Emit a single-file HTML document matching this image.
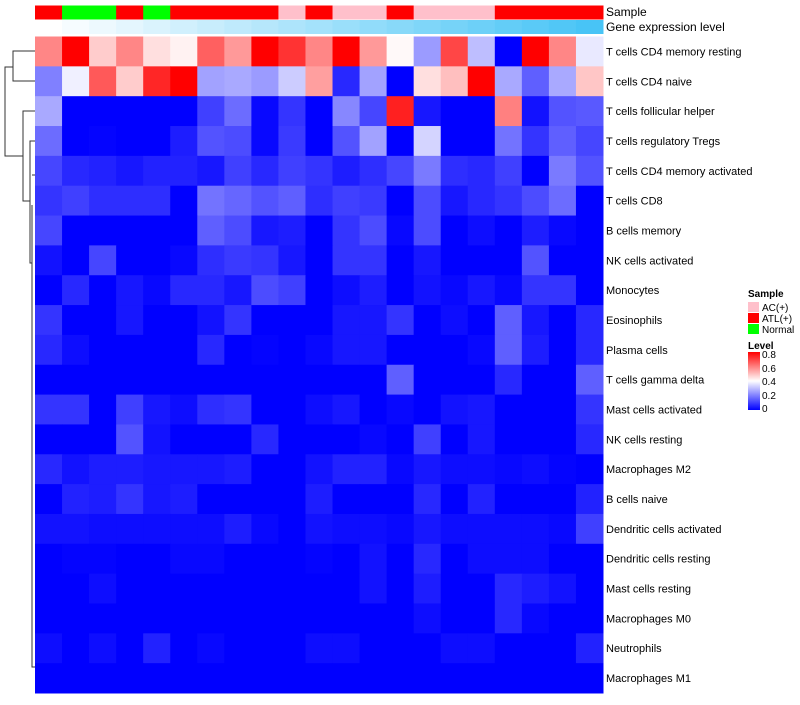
<!DOCTYPE html>
<html><head><meta charset="utf-8"><style>
body{margin:0;background:#fff;width:800px;height:700px;overflow:hidden;font-family:"Liberation Sans",sans-serif}
svg text{font-family:"Liberation Sans",sans-serif;fill:#000}
</style></head><body>
<svg id="chart" width="800" height="700" xmlns="http://www.w3.org/2000/svg">
<g id="dendro" stroke="#333" stroke-width="1" fill="none">
<path d="M35,51 H13 V81 H35 M13,67 H5 V156 H23 M35,111 H23 V201 H30 M35,141 H30 V263 H32 M32,175 H35 M32,205 V667 H35"/>
</g>
<g id="annot"></g>
<g id="cells"></g>
<g id="rowlabels" font-size="11"></g>
<text x="606" y="16" font-size="12">Sample</text>
<text x="606" y="31" font-size="12">Gene expression level</text>
<g font-size="10">
<text x="748" y="297" font-weight="bold">Sample</text>
<rect x="748" y="302" width="11" height="10" fill="#ffc0cb"/>
<text x="762" y="311">AC(+)</text>
<rect x="748" y="313" width="11" height="10" fill="#ff0000"/>
<text x="762" y="322">ATL(+)</text>
<rect x="748" y="324" width="11" height="10" fill="#00ff00"/>
<text x="762" y="333">Normal</text>
<text x="748" y="349" font-weight="bold">Level</text>
<defs><linearGradient id="lg" x1="0" y1="1" x2="0" y2="0"><stop offset="0" stop-color="#0000ff"/><stop offset="0.5" stop-color="#ffffff"/><stop offset="1" stop-color="#ff0000"/></linearGradient></defs>
<rect x="748" y="352" width="12" height="58" fill="url(#lg)"/>
<text x="762" y="358">0.8</text>
<text x="762" y="372">0.6</text>
<text x="762" y="385">0.4</text>
<text x="762" y="399">0.2</text>
<text x="762" y="412">0</text>
</g>
</svg>
<script>
const rowNames=["T cells CD4 memory resting","T cells CD4 naive","T cells follicular helper","T cells regulatory  Tregs","T cells CD4 memory activated","T cells CD8","B cells memory","NK cells activated","Monocytes","Eosinophils","Plasma cells","T cells gamma delta","Mast cells activated","NK cells resting","Macrophages M2","B cells naive","Dendritic cells activated","Dendritic cells resting","Mast cells resting","Macrophages M0","Neutrophils","Macrophages M1"];
const sampleGroups=["ATL","Normal","Normal","ATL","Normal","ATL","ATL","ATL","ATL","AC","ATL","AC","AC","ATL","AC","AC","AC","ATL","ATL","ATL","ATL"];
const geneLevels=[0,1,2,3,4,5,6,7,8,9,10,11,12,13,14,15,16,17,18,19,20];
const values=[
[0.59,0.8,0.48,0.59,0.45,0.42,0.65,0.56,0.8,0.72,0.59,0.8,0.56,0.41,0.26,0.69,0.31,0,0.8,0.59,0.37],
[0.22,0.38,0.66,0.48,0.74,0.8,0.27,0.28,0.26,0.33,0.55,0.08,0.27,0,0.45,0.5,0.8,0.28,0.17,0.28,0.49],
[0.28,0,0,0,0,0,0.12,0.19,0.02,0.1,0,0.23,0.13,0.75,0.05,0,0,0.6,0.04,0.15,0.16],
[0.19,0,0.01,0,0,0.06,0.15,0.14,0.02,0.11,0,0.15,0.27,0,0.34,0,0,0.2,0.1,0.17,0.13],
[0.13,0.08,0.07,0.05,0.07,0.07,0.05,0.12,0.08,0.12,0.1,0.06,0.09,0.13,0.21,0.09,0.08,0.12,0,0.21,0.15],
[0.1,0.12,0.09,0.09,0.09,0,0.2,0.18,0.15,0.17,0.09,0.12,0.11,0,0.14,0.05,0.08,0.1,0.14,0.19,0],
[0.13,0,0,0,0,0,0.17,0.14,0.05,0.06,0,0.1,0.14,0.02,0.14,0,0.03,0,0.06,0.02,0],
[0.04,0,0.13,0,0,0.02,0.09,0.11,0.1,0.05,0,0.1,0.1,0,0.05,0,0,0,0.15,0,0],
[0,0.08,0,0.05,0.02,0.08,0.08,0.05,0.14,0.12,0,0.03,0.06,0,0.04,0.02,0.05,0.02,0.1,0.1,0],
[0.1,0,0,0.05,0,0,0.04,0.1,0,0,0,0.05,0.05,0.1,0,0.03,0,0.17,0.05,0,0.08],
[0.08,0.03,0,0,0,0,0.08,0,0.01,0,0.02,0.05,0.05,0,0,0,0.02,0.17,0.06,0,0.08],
[0,0,0,0,0,0,0,0,0,0,0,0,0,0.17,0,0,0,0.08,0,0,0.17],
[0.1,0.1,0,0.12,0.05,0.03,0.09,0.1,0,0,0.03,0.05,0,0.02,0,0.04,0.05,0,0,0,0.1],
[0,0,0,0.15,0.04,0,0,0,0.08,0,0,0,0.02,0,0.12,0,0.05,0,0,0,0.08],
[0.08,0.04,0.06,0.06,0.05,0.05,0.05,0.06,0,0,0.04,0.07,0.07,0.02,0.05,0.03,0.03,0.02,0.03,0.01,0],
[0,0.07,0.06,0.1,0.05,0.06,0,0,0,0,0.06,0,0,0,0.08,0,0.07,0,0,0,0.07],
[0.04,0.04,0.03,0.03,0.03,0.03,0.03,0.06,0.02,0,0.04,0.03,0.03,0.02,0.05,0.03,0.03,0.03,0.03,0.02,0.12],
[0,0.01,0.01,0,0,0.02,0.02,0,0,0,0.01,0,0.04,0,0.08,0,0.03,0.03,0.03,0,0],
[0,0,0.03,0,0,0,0,0,0,0,0,0,0.04,0,0.06,0,0,0.08,0.06,0.04,0],
[0,0,0,0,0,0,0,0,0,0,0,0,0,0,0.03,0,0,0.08,0.02,0,0],
[0.03,0,0.03,0,0.07,0,0.02,0,0,0,0.03,0.03,0,0,0,0.03,0.03,0,0,0,0.07],
[0,0,0,0,0,0,0,0,0,0,0,0,0,0,0,0,0,0,0,0,0]
];
const NS="http://www.w3.org/2000/svg";
const X0=35,X1=603,Y0=36.5,Y1=693;
const nC=21,nR=rowNames.length;
const cw=(X1-X0)/nC,rh=(Y1-Y0)/nR;
function xPos(c){return X0+c*cw;}
function yPos(r){return Y0+r*rh;}
function color(v){let t=Math.max(0,Math.min(1,v/0.8));let r,g,b;
 if(t<0.5){let s=Math.pow(t/0.5,1.15);r=255*s;g=255*s;b=255;}else{let s=(t-0.5)/0.5;r=255;g=255*(1-s);b=255*(1-s);}
 return `rgb(${Math.round(r)},${Math.round(g)},${Math.round(b)})`;}
const sampleCol={AC:"#ffc0cb",ATL:"#ff0000",Normal:"#00ff00"};
const cells=document.getElementById('cells');
values.forEach((row,r)=>row.forEach((v,c)=>{
 const el=document.createElementNS(NS,'rect');
 el.setAttribute('x',xPos(c));el.setAttribute('y',yPos(r));
 el.setAttribute('width',cw+0.5);el.setAttribute('height',rh+0.5);
 el.setAttribute('fill',color(v));
 
 
 cells.appendChild(el);}));
const annot=document.getElementById('annot');
const gmax=Math.max(...geneLevels);
sampleGroups.forEach((s,c)=>{
 const el=document.createElementNS(NS,'rect');
 el.setAttribute('x',xPos(c));el.setAttribute('y',5.5);el.setAttribute('width',cw+0.5);el.setAttribute('height',14);
 el.setAttribute('fill',sampleCol[s]);
 
 
 annot.appendChild(el);
 const g=document.createElementNS(NS,'rect');
 const t=geneLevels[c]/gmax;
 g.setAttribute('x',xPos(c));g.setAttribute('y',20);g.setAttribute('width',cw+0.5);g.setAttribute('height',14);
 g.setAttribute('fill',`rgb(${Math.round(255-(255-72)*t)},${Math.round(255-(255-196)*t)},${Math.round(255-(255-246)*t)})`);
 
 
 annot.appendChild(g);});
const rl=document.getElementById('rowlabels');
rowNames.forEach((n,r)=>{
 const t=document.createElementNS(NS,'text');
 t.setAttribute('x',606);t.setAttribute('y',yPos(r)+rh/2+4);t.textContent=n;
 
 
 rl.appendChild(t);});
</script>
</body></html>
